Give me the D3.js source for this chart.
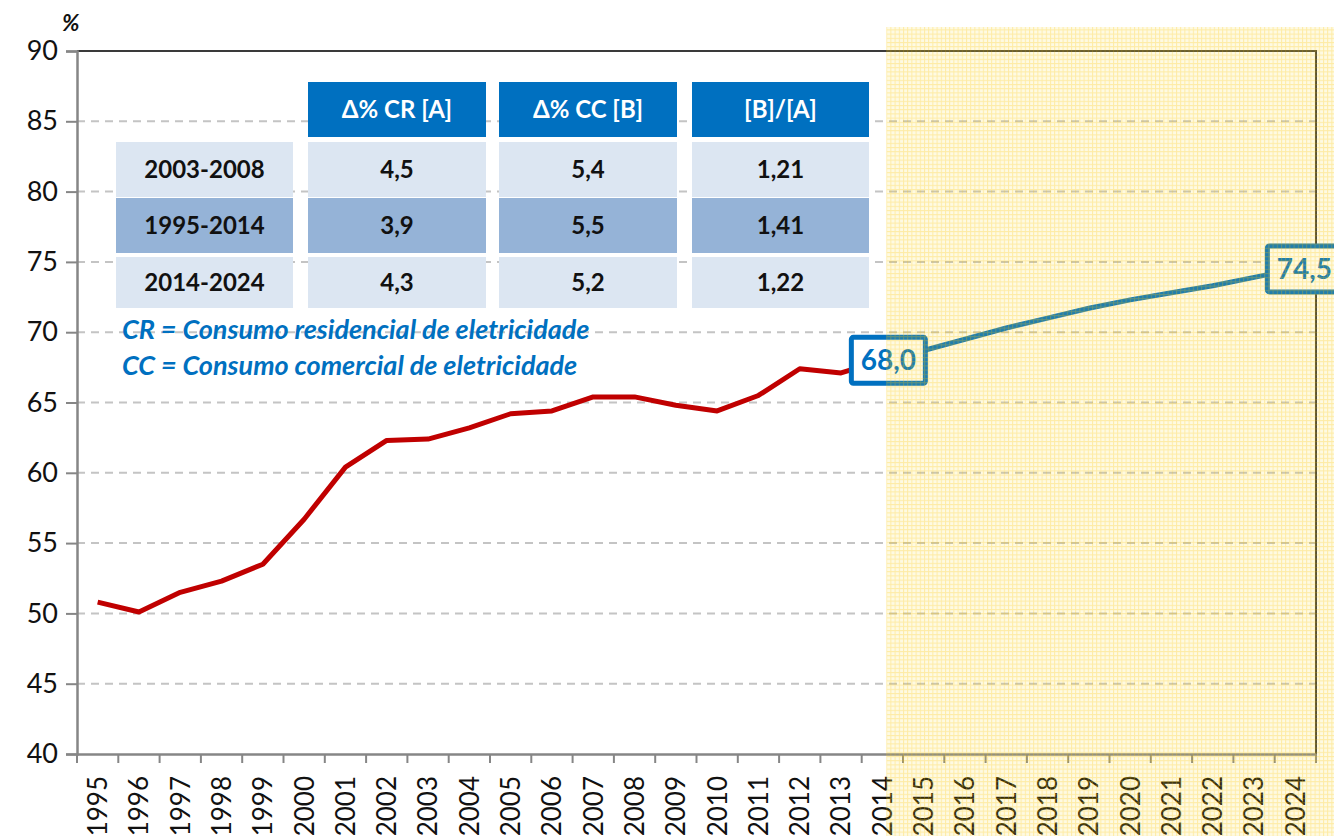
<!DOCTYPE html>
<html>
<head>
<meta charset="utf-8">
<script src="https://cdn.jsdelivr.net/npm/d3@7"></script>
<style>
  body { margin: 0; background: #fff; }
  svg { display: block; font-family: Lato, "Open Sans", sans-serif; }
</style>
</head>
<body>
<script>
// chart data
const years = d3.range(1995, 2025).map(String);
const histYears = years.slice(0, 20);          // 1995..2014
const projYears = years.slice(19);             // 2014..2024
const histValues = [50.8, 50.1, 51.5, 52.3, 53.5, 56.7, 60.4, 62.3, 62.4, 63.2,
                    64.2, 64.4, 65.4, 65.4, 64.8, 64.4, 65.5, 67.4, 67.1, 68.0];
const projValues = [68.0, 68.7, 69.5, 70.3, 71.0, 71.7, 72.3, 72.8, 73.3, 73.9, 74.5];
const yTicks = [40, 45, 50, 55, 60, 65, 70, 75, 80, 85, 90];

// table
const tableHeaders = ["Δ% CR [A]", "Δ% CC [B]", "[B]/[A]"];
const periods = ["2003-2008", "1995-2014", "2014-2024"];
const crValues = ["4,5", "3,9", "4,3"];
const ccValues = ["5,4", "5,5", "5,2"];
const ratioValues = ["1,21", "1,41", "1,22"];
const legendLines = ["CR = Consumo residencial de eletricidade",
                     "CC = Consumo comercial de eletricidade"];

const svgWidth = 1334, svgHeight = 836;
const margin = {top: 51, right: 18, bottom: 82, left: 77};

const svg = d3.select("body").append("svg")
    .attr("width", svgWidth)
    .attr("height", svgHeight);

const x = d3.scaleBand()
    .domain(years)
    .range([margin.left, svgWidth - margin.right]);
const y = d3.scaleLinear()
    .domain([40, 90])
    .range([svgHeight - margin.bottom, margin.top]);
const cx = d => x(d) + x.bandwidth() / 2;

// gridlines
svg.append("g")
  .selectAll("line")
  .data(yTicks.filter(v => v > 40 && v < 90))
  .join("line")
    .attr("x1", margin.left).attr("x2", svgWidth - margin.right)
    .attr("y1", d => y(d)).attr("y2", d => y(d))
    .attr("stroke", "#c4c4c4")
    .attr("stroke-width", 2)
    .attr("stroke-dasharray", "8,6");

// top + right frame
svg.append("path")
    .attr("d", `M${margin.left},${y(90)}H${svgWidth - margin.right}V${y(40)}`)
    .attr("fill", "none")
    .attr("stroke", "#3a3a3a")
    .attr("stroke-width", 2);

// y axis
const yAxis = svg.append("g")
    .attr("transform", `translate(${margin.left},0)`)
    .call(d3.axisLeft(y).tickValues(yTicks).tickSize(11).tickPadding(8));
yAxis.select(".domain").attr("stroke", "#868686").attr("stroke-width", 2.5);
yAxis.selectAll(".tick line").attr("stroke", "#868686").attr("stroke-width", 2);
yAxis.selectAll(".tick text")
    .attr("font-size", 27).attr("fill", "#111")
    .attr("font-family", "Lato, sans-serif");

// x axis
const xAxis = svg.append("g")
    .attr("transform", `translate(0,${y(40)})`)
    .call(d3.axisBottom(x).tickSize(0).tickPadding(0));
xAxis.select(".domain").attr("stroke", "#868686").attr("stroke-width", 2.5);
xAxis.selectAll(".tick text")
    .attr("font-size", 26).attr("fill", "#111")
    .attr("font-family", "Lato, sans-serif")
    .attr("text-anchor", "end")
    .attr("transform", "rotate(-90)")
    .attr("x", -22).attr("y", 0).attr("dy", "0.36em");
// boundary ticks
svg.append("g")
  .selectAll("line")
  .data(years.concat(["end"]))
  .join("line")
    .attr("x1", (d, i) => margin.left + i * x.step())
    .attr("x2", (d, i) => margin.left + i * x.step())
    .attr("y1", y(40)).attr("y2", y(40) + 9)
    .attr("stroke", "#868686").attr("stroke-width", 2);

// "%" label
svg.append("text")
    .attr("x", 62).attr("y", 31)
    .attr("font-size", 23).attr("font-weight", "bold").attr("font-style", "italic")
    .attr("fill", "#111")
    .text("%");

// lines
const line = d3.line().x(d => cx(d[0])).y(d => y(d[1]));
svg.append("path")
    .datum(d3.zip(histYears, histValues))
    .attr("d", line)
    .attr("fill", "none")
    .attr("stroke", "#c00000")
    .attr("stroke-width", 5)
    .attr("stroke-linejoin", "round");
svg.append("path")
    .datum(d3.zip(projYears, projValues))
    .attr("d", line)
    .attr("fill", "none")
    .attr("stroke", "#0070c0")
    .attr("stroke-width", 5)
    .attr("stroke-linejoin", "round");

// value labels
const labels = [[histYears[19], histValues[19]], [projYears[10], projValues[10]]];
const lab = svg.append("g").selectAll("g")
  .data(labels)
  .join("g")
    .attr("transform", (d, i) => `translate(${cx(d[0]) + (i ? 9 : 6)},${y(d[1])})`);
lab.append("rect")
    .attr("x", -37).attr("y", -23).attr("width", 74).attr("height", 46)
    .attr("rx", 2)
    .attr("fill", "#fff").attr("stroke", "#0070c0").attr("stroke-width", 5);
lab.append("text")
    .attr("text-anchor", "middle").attr("dy", "0.36em")
    .attr("font-size", 28).attr("font-weight", "bold")
    .attr("fill", "#0070c0")
    .text(d => d3.format(".1f")(d[1]).replace(".", ","));

// projection shading, drawn over everything as in the original
const defs = svg.append("defs");
const pat = defs.append("pattern")
    .attr("id", "grid").attr("patternUnits", "userSpaceOnUse")
    .attr("width", 4.2).attr("height", 4.2);
pat.append("rect").attr("width", 4.2).attr("height", 4.2)
    .attr("fill", "rgb(250,215,40)").attr("fill-opacity", 0.13);
pat.append("path").attr("d", "M0,0.5H4.2M0.5,0V4.2")
    .attr("stroke", "rgb(255,195,0)").attr("stroke-opacity", 0.28).attr("stroke-width", 1);
svg.append("rect")
    .attr("x", cx("2014") + 4).attr("y", 27)
    .attr("width", svgWidth - cx("2014") - 4).attr("height", svgHeight - 27)
    .attr("fill", "url(#grid)");

// table
const colX = [116, 308, 499, 692];
const colW = [177, 178, 178, 177];
const rowY = [82, 142, 198, 257];
const rowH = [55, 55, 55, 51];
const rowFill = ["#dce6f2", "#95b3d7", "#dce6f2"];
const tbl = svg.append("g").attr("font-family", "Lato, sans-serif").attr("font-weight", "bold");

tbl.selectAll(".hd")
  .data(tableHeaders)
  .join("rect")
    .attr("x", (d, i) => colX[i + 1]).attr("y", rowY[0])
    .attr("width", (d, i) => colW[i + 1]).attr("height", rowH[0])
    .attr("fill", "#0070c0");
tbl.selectAll(".hdt")
  .data(tableHeaders)
  .join("text")
    .attr("x", (d, i) => colX[i + 1] + colW[i + 1] / 2)
    .attr("y", rowY[0] + rowH[0] / 2).attr("dy", "0.36em")
    .attr("text-anchor", "middle").attr("font-size", 24).attr("fill", "#fff")
    .text(d => d);

const rows = periods.map((p, i) => [p, crValues[i], ccValues[i], ratioValues[i]]);
rows.forEach((r, ri) => {
  const g = tbl.append("g");
  g.selectAll("rect")
    .data(r)
    .join("rect")
      .attr("x", (d, i) => colX[i]).attr("y", rowY[ri + 1])
      .attr("width", (d, i) => colW[i]).attr("height", rowH[ri + 1])
      .attr("fill", rowFill[ri]);
  g.selectAll("text")
    .data(r)
    .join("text")
      .attr("x", (d, i) => colX[i] + colW[i] / 2)
      .attr("y", rowY[ri + 1] + rowH[ri + 1] / 2).attr("dy", "0.36em")
      .attr("text-anchor", "middle").attr("font-size", 24).attr("fill", "#111")
      .text(d => d);
});

// legend notes
svg.append("g")
  .selectAll("text")
  .data(legendLines)
  .join("text")
    .attr("x", 122).attr("y", (d, i) => 339 + i * 36)
    .attr("font-size", 27).attr("font-weight", "bold").attr("font-style", "italic")
    .attr("fill", "#0070c0")
    .text(d => d);
</script>
</body>
</html>
